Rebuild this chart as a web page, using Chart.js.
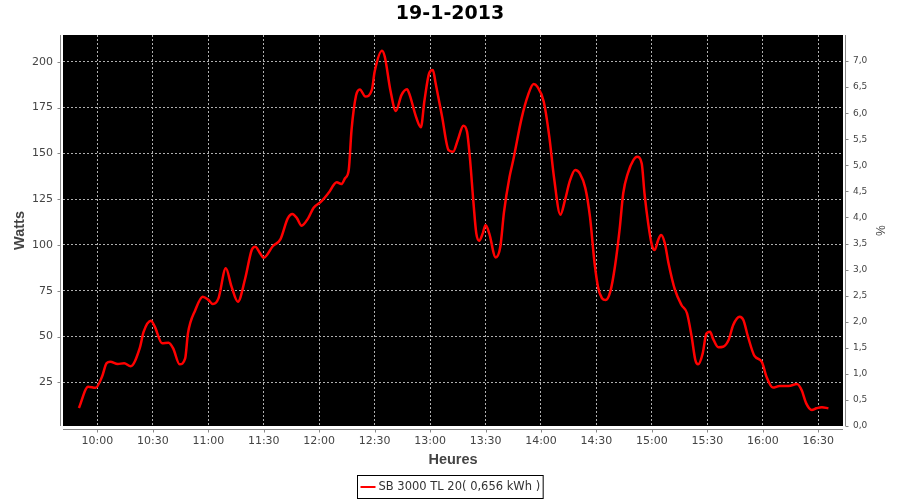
<!DOCTYPE html>
<html lang="fr">
<head>
    <meta charset="UTF-8">
    <title>19-1-2013</title>
    <script src="https://cdn.jsdelivr.net/npm/chart.js"></script>
    <style>
        html, body { margin: 0; padding: 0; background: #ffffff; }
        #wrap { width: 900px; height: 500px; }
    </style>
</head>
<body>
    <div id="wrap"><canvas id="powerChart" width="900" height="500"></canvas></div>
    <script>
        // Data
        const chartTitle = '19-1-2013';
        const seriesLabel = 'SB 3000 TL 20( 0,656 kWh )';

        const times = [
            '9:50:00', '9:55:00', '9:59:00', '10:02:30', '10:05:00', '10:07:00', '10:11:00', '10:14:30', '10:18:00', '10:23:00',
            '10:25:00', '10:29:00', '10:31:00', '10:35:00', '10:38:30', '10:41:00', '10:44:30', '10:47:30', '10:49:00', '10:53:00',
            '10:57:00', '11:00:00', '11:02:30', '11:05:30', '11:09:30', '11:12:30', '11:16:00', '11:20:00', '11:23:30', '11:25:30',
            '11:27:30', '11:30:00', '11:35:00', '11:39:00', '11:43:00', '11:45:30', '11:48:00', '11:50:30', '11:54:00', '11:57:00',
            '12:01:00', '12:05:00', '12:09:30', '12:12:00', '12:14:00', '12:16:00', '12:17:30', '12:20:00', '12:22:00', '12:25:00',
            '12:28:30', '12:30:00', '12:34:00', '12:35:30', '12:38:30', '12:41:30', '12:44:30', '12:47:30', '12:49:00', '12:52:30',
            '12:55:00', '12:57:00', '12:59:30', '13:01:30', '13:03:00', '13:06:30', '13:10:00', '13:12:30', '13:15:00', '13:18:00',
            '13:20:00', '13:21:30', '13:23:30', '13:25:00', '13:26:30', '13:28:30', '13:30:00', '13:32:00', '13:35:30', '13:38:00',
            '13:40:00', '13:43:00', '13:45:00', '13:49:30', '13:53:00', '13:56:00', '13:58:00', '14:01:30', '14:04:30', '14:07:00',
            '14:10:30', '14:13:00', '14:15:30', '14:18:30', '14:21:00', '14:24:00', '14:26:30', '14:29:00', '14:31:00', '14:33:00',
            '14:35:00', '14:37:30', '14:40:00', '14:42:30', '14:44:30', '14:47:00', '14:50:00', '14:52:00', '14:54:30', '14:56:00',
            '14:58:00', '15:00:00', '15:01:30', '15:03:30', '15:05:00', '15:07:00', '15:09:00', '15:12:30', '15:16:00', '15:19:00',
            '15:21:30', '15:23:30', '15:25:00', '15:27:30', '15:29:30', '15:31:30', '15:33:00', '15:36:00', '15:38:30', '15:41:30',
            '15:44:00', '15:47:30', '15:49:30', '15:52:00', '15:55:30', '15:59:30', '16:02:00', '16:05:30', '16:09:00', '16:14:00',
            '16:18:30', '16:21:00', '16:23:30', '16:26:30', '16:29:00', '16:32:00', '16:35:30'
        ];

        const watts = [
            11, 22.6, 22, 28, 35.5, 36.2, 35, 35.4, 33.8, 44,
            52.5, 58.6, 55.5, 46.3, 46.6, 43.5, 34.8, 38, 51.7, 64.5,
            71.7, 70, 67.7, 70.8, 87.2, 77.5, 69, 81.8, 97.2, 99,
            96.3, 93, 99.4, 103, 114.5, 116.9, 114.5, 110.5, 114.5, 120.3,
            123.6, 128.3, 134.2, 133.2, 136.4, 141, 162.7, 181.8, 184.9, 181,
            184.6, 194.5, 206, 202.7, 184.6, 173.1, 181.8, 185, 181.8, 169.6,
            164.2, 179.1, 193.7, 195.5, 188.2, 170, 151.8, 150.9, 157.3, 165.1,
            161.8, 148, 122.7, 106.3, 102.3, 106.3, 110.9, 106.3, 93.2, 99,
            118, 137.2, 146.3, 169.1, 181.8, 187.8, 186.4, 178.2, 159.1, 137.2,
            116.5, 124.5, 134.5, 140.9, 139.1, 131, 115.4, 90, 76.3, 70.9,
            69.9, 74.5, 88.1, 108.1, 128.2, 139.1, 146.3, 148.1, 144.5, 128.2,
            111.8, 99.9, 97.2, 103, 105.4, 100.9, 90, 75.4, 67.2, 62.7,
            50, 37.2, 34.8, 40.8, 51.7, 52.6, 49, 44.1, 44.4, 48.1,
            56.3, 60.8, 59, 49.9, 39.4, 36.2, 28.1, 22.1, 23, 23,
            24.1, 20.8, 13.5, 9.9, 10.8, 11.4, 10.8
        ];

        const timeTicks = ['10:00', '10:30', '11:00', '11:30', '12:00', '12:30', '13:00', '13:30', '14:00', '14:30', '15:00', '15:30', '16:00', '16:30'];
        const wattTicks = [25, 50, 75, 100, 125, 150, 175, 200];
        const percentTicks = [0, 0.5, 1, 1.5, 2, 2.5, 3, 3.5, 4, 4.5, 5, 5.5, 6, 6.5, 7];

        // "HH:MM(:SS)" -> minutes since midnight
        function toMinutes(s) {
            const p = s.split(':').map(Number);
            return p[0] * 60 + p[1] + (p[2] || 0) / 60;
        }
        function fmtTime(m) {
            const h = Math.floor(m / 60);
            const mm = Math.round(m - h * 60);
            return h + ':' + String(mm).padStart(2, '0');
        }

        const points = times.map((t, i) => ({ x: toMinutes(t), y: watts[i] }));

        const tickFont = { family: 'DejaVu Sans', size: 11 };
        const axisTitleFont = { family: 'Liberation Sans', size: 14.5, weight: 'bold' };
        const gridStyle = { color: '#b0b0b0', lineWidth: 1, drawTicks: false };

        // black plot background, axis lines with tick marks, boxed legend
        const framePlugin = {
            id: 'frame',
            beforeDraw(chart) {
                const { ctx, chartArea: a } = chart;
                ctx.save();
                ctx.fillStyle = '#ffffff';
                ctx.fillRect(0, 0, chart.width, chart.height);
                ctx.fillStyle = '#000000';
                ctx.fillRect(a.left, a.top, a.right - a.left, a.bottom - a.top);
                ctx.restore();
            },
            afterDraw(chart) {
                const { ctx, chartArea: a, scales } = chart;
                ctx.save();
                ctx.strokeStyle = '#888888';
                ctx.lineWidth = 1;
                ctx.beginPath();
                // left axis
                const lx = Math.round(a.left) - 2.5;
                ctx.moveTo(lx, a.top); ctx.lineTo(lx, a.bottom);
                scales.y.ticks.forEach(t => {
                    const y = Math.round(scales.y.getPixelForValue(t.value)) + 0.5;
                    ctx.moveTo(lx - 3, y); ctx.lineTo(lx, y);
                });
                // right axis
                const rx = Math.round(a.right) + 2.5;
                ctx.moveTo(rx, a.top); ctx.lineTo(rx, a.bottom);
                scales.y2.ticks.forEach(t => {
                    const y = Math.round(scales.y2.getPixelForValue(t.value)) + 0.5;
                    ctx.moveTo(rx, y); ctx.lineTo(rx + 3, y);
                });
                // bottom axis
                const by = Math.round(a.bottom) + 3.5;
                ctx.moveTo(a.left, by); ctx.lineTo(a.right, by);
                scales.x.ticks.forEach(t => {
                    const x = Math.round(scales.x.getPixelForValue(t.value)) + 0.5;
                    ctx.moveTo(x, by); ctx.lineTo(x, by + 3);
                });
                ctx.stroke();

                // legend
                ctx.font = '11.5px "DejaVu Sans"';
                const tw = ctx.measureText(seriesLabel).width;
                const boxW = 3 + 15 + 3 + tw + 3;
                const boxX = Math.round((chart.width - boxW) / 2) + 0.5;
                const boxY = 475.5, boxH = 23;
                ctx.strokeStyle = '#000000';
                ctx.strokeRect(boxX, boxY, boxW, boxH);
                ctx.strokeStyle = '#ff0000';
                ctx.lineWidth = 2;
                ctx.beginPath();
                ctx.moveTo(boxX + 3, boxY + boxH / 2);
                ctx.lineTo(boxX + 18, boxY + boxH / 2);
                ctx.stroke();
                ctx.fillStyle = '#333333';
                ctx.textBaseline = 'middle';
                ctx.fillText(seriesLabel, boxX + 21, boxY + boxH / 2 + 0.5);
                ctx.restore();
            }
        };

        new Chart(document.getElementById('powerChart'), {
            type: 'line',
            data: {
                datasets: [{
                    label: seriesLabel,
                    data: points,
                    yAxisID: 'y',
                    borderColor: '#ff0000',
                    borderWidth: 2.5,
                    pointRadius: 0,
                    fill: false,
                    cubicInterpolationMode: 'monotone'
                }]
            },
            plugins: [framePlugin],
            options: {
                responsive: false,
                animation: false,
                devicePixelRatio: 1,
                layout: { padding: { left: 0, right: 0, top: 0, bottom: 26 } },
                plugins: {
                    legend: { display: false },
                    tooltip: { enabled: false },
                    title: {
                        display: true,
                        text: chartTitle,
                        color: '#000000',
                        font: { family: 'DejaVu Sans', size: 19, weight: 'bold' },
                        padding: { top: 3, bottom: 9.2 }
                    }
                },
                scales: {
                    x: {
                        type: 'linear',
                        min: 581.4,
                        max: 1003.4,
                        afterFit: s => { s.height = 48; },
                        afterBuildTicks: s => { s.ticks = timeTicks.map(t => ({ value: toMinutes(t) })); },
                        ticks: { font: tickFont, color: '#444444', padding: 9, maxRotation: 0, autoSkip: false,
                            callback: v => fmtTime(v) },
                        grid: Object.assign({}, gridStyle),
                        border: { display: false, dash: [2, 2] },
                        title: { display: true, text: 'Heures', color: '#444444', font: axisTitleFont, padding: { top: 0, bottom: 5 } }
                    },
                    y: {
                        position: 'left',
                        min: 1.15,
                        max: 214.6,
                        afterFit: s => { s.width = 63; },
                        afterBuildTicks: s => { s.ticks = wattTicks.map(v => ({ value: v })); },
                        ticks: { font: tickFont, color: '#444444', padding: 10 },
                        grid: Object.assign({}, gridStyle),
                        border: { display: false, dash: [2, 2] },
                        title: { display: true, text: 'Watts', color: '#444444', font: axisTitleFont, padding: { top: 11, bottom: 0 } }
                    },
                    y2: {
                        position: 'right',
                        min: 0,
                        max: 7.499,
                        afterFit: s => { s.width = 57; },
                        afterBuildTicks: s => { s.ticks = percentTicks.map(v => ({ value: v })); },
                        ticks: { font: { family: 'DejaVu Sans', size: 9 }, color: '#444444', padding: 10,
                            callback: v => v.toFixed(1).replace('.', ',') },
                        grid: { display: false, drawTicks: false },
                        border: { display: false },
                        title: { display: true, text: '%', color: '#444444', font: { family: 'Liberation Sans', size: 12 }, padding: { top: 13, bottom: 0 } }
                    }
                }
            }
        });
    </script>
</body>
</html>
